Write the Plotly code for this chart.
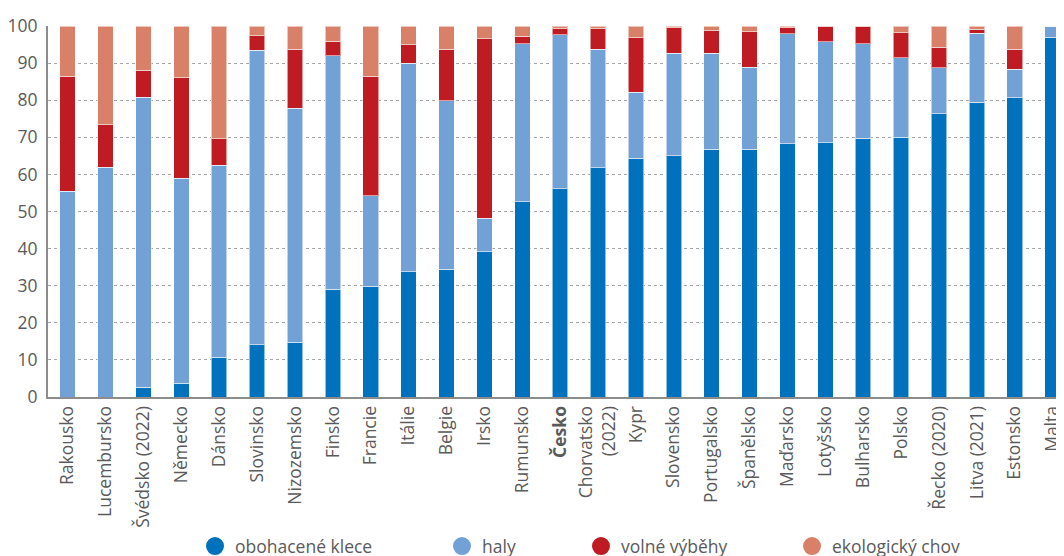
import plotly.graph_objects as go

countries = ["Rakousko", "Lucembursko", "Švédsko (2022)", "Německo", "Dánsko", "Slovinsko",
             "Nizozemsko", "Finsko", "Francie", "Itálie", "Belgie", "Irsko", "Rumunsko", "Česko",
             "Chorvatsko (2022)", "Kypr", "Slovensko", "Portugalsko", "Španělsko", "Maďarsko",
             "Lotyšsko", "Bulharsko", "Polsko", "Řecko (2020)", "Litva (2021)", "Estonsko", "Malta"]

tick_labels = ["Rakousko", "Lucembursko", "Švédsko (2022)", "Německo", "Dánsko", "Slovinsko",
               "Nizozemsko", "Finsko", "Francie", "Itálie", "Belgie", "Irsko", "Rumunsko", "<b>Česko</b>",
               "Chorvatsko<br>(2022)", "Kypr", "Slovensko", "Portugalsko", "Španělsko", "Maďarsko",
               "Lotyšsko", "Bulharsko", "Polsko", "Řecko (2020)", "Litva (2021)", "Estonsko", "Malta"]

obohacene_klece = [0, 0, 2.6, 3.7, 10.7, 14.1, 14.7, 29.0, 29.9, 33.7, 34.5, 39.1, 52.6, 56.1,
                   61.8, 64.4, 65.0, 66.8, 66.8, 68.2, 68.5, 69.8, 70.0, 76.3, 79.5, 80.7, 97.0]
haly = [55.5, 61.9, 78.2, 55.2, 51.8, 79.4, 63.1, 63.0, 24.3, 56.3, 45.3, 9.1, 42.6, 41.6,
        32.0, 17.7, 27.7, 25.9, 22.1, 29.7, 27.2, 25.4, 21.5, 12.5, 18.5, 7.6, 3.0]
volne_vybehy = [31.0, 11.5, 7.3, 27.1, 7.1, 3.9, 16.0, 3.9, 32.2, 4.9, 14.0, 48.3, 2.1, 1.5,
                5.5, 14.7, 6.8, 6.0, 9.5, 1.6, 4.3, 4.8, 6.7, 5.5, 1.1, 5.5, 0]
ekologicky_chov = [13.5, 26.6, 11.9, 14.0, 30.4, 2.6, 6.2, 4.1, 13.6, 5.1, 6.2, 3.5, 2.7, 0.8,
                   0.7, 3.2, 0.5, 1.3, 1.6, 0.5, 0, 0, 1.8, 5.7, 0.9, 6.2, 0]

series = [
    ("obohacené klece", obohacene_klece, "#0071bc", "legend"),
    ("haly", haly, "#72a1d5", "legend2"),
    ("volné výběhy", volne_vybehy, "#be1b22", "legend3"),
    ("ekologický chov", ekologicky_chov, "#d98069", "legend4"),
]

FONT = "Open Sans"
GREY = "#5a5a5a"

fig = go.Figure()
for name, vals, color, leg in series:
    fig.add_trace(go.Bar(
        x=countries, y=vals, name=name, marker_color=color,
        marker_line=dict(color="rgba(255,255,255,0.55)", width=1),
        width=0.41, showlegend=False,
    ))
for name, vals, color, leg in series:
    fig.add_trace(go.Scatter(
        x=[None], y=[None], mode="markers", name=name, legend=leg,
        marker=dict(symbol="circle", size=20, color=color,
                    line=dict(color=color, width=2)),
        showlegend=True,
    ))

legend_x = [0.1447, 0.3878, 0.5246, 0.7323]
leg_common = dict(orientation="h", yanchor="middle", y=-0.402, xanchor="left",
                  font=dict(family=FONT, size=17.5, color=GREY),
                  bgcolor="rgba(0,0,0,0)", itemsizing="trace")

# the page body adds an 8px offset, so margins are shifted by 8px to compensate
fig.update_layout(
    width=1064, height=556,
    margin=dict(l=40, r=8, t=18, b=167, autoexpand=False),
    paper_bgcolor="white", plot_bgcolor="white",
    barmode="stack", bargap=0.59,
    font=dict(family=FONT, size=17.5, color=GREY),
    legend=dict(x=legend_x[0], **leg_common),
    legend2=dict(x=legend_x[1], **leg_common),
    legend3=dict(x=legend_x[2], **leg_common),
    legend4=dict(x=legend_x[3], **leg_common),
    xaxis=dict(
        type="category", categoryorder="array", categoryarray=countries,
        tickmode="array", tickvals=countries, ticktext=tick_labels,
        tickangle=-90, range=[-0.52, 26.3], automargin=False,
        showline=True, linecolor="#8c8c8c", linewidth=2,
        showgrid=False, ticks="", tickfont=dict(family=FONT, size=17.5, color=GREY),
    ),
    yaxis=dict(
        range=[0, 100], tickmode="linear", tick0=0, dtick=10, automargin=False,
        showline=True, linecolor="#8c8c8c", linewidth=2,
        showgrid=True, gridcolor="#a6a6a6", griddash="3px,3px", gridwidth=1,
        zeroline=False, ticks="", ticklabelstandoff=5,
        tickfont=dict(family=FONT, size=17.5, color=GREY),
    ),
)

fig.write_html("out.html")
